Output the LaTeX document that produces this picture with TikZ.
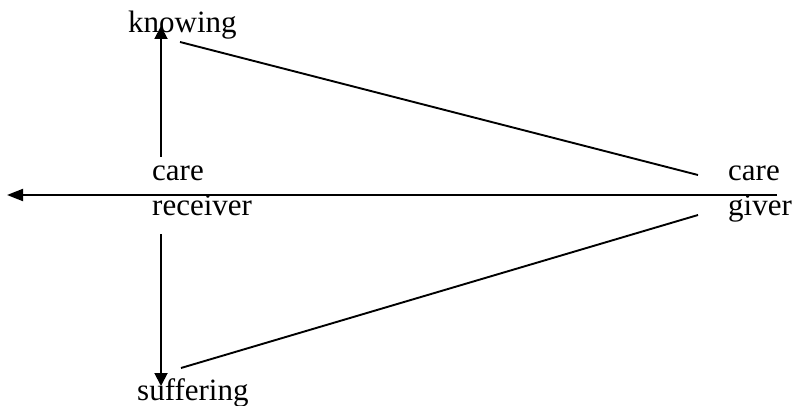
\documentclass[tikz,border=0pt]{standalone}
\usepackage{fontspec}
\setmainfont{Liberation Serif}
\usetikzlibrary{arrows.meta}
\begin{document}
\begin{tikzpicture}[x=1pt,y=-1pt,
  lbl/.style={inner sep=0pt,anchor=base west,font=\fontsize{31}{36}\selectfont},
  link/.style={line width=1.9pt},
  arr/.style={link,-{Triangle[length=13pt,width=13pt]}},
  harr/.style={link,-{Triangle[length=16pt,width=12pt]}}]
  \useasboundingbox (0,0) rectangle (794,406);
  % labels
  \node[lbl] (knowing) at (128,33) {knowing};
  \node[lbl] (suffering) at (137,400) {suffering};
  \node[lbl] (rcare) at (152,180) {care};
  \node[lbl] (receiver) at (152,215) {receiver};
  \node[lbl] (gcare) at (728,180) {care};
  \node[lbl] (giver) at (728,215) {giver};
  % connector end points
  \coordinate (upfrom) at (161,157);
  \coordinate (upto) at (161,26);
  \coordinate (downfrom) at (161,234);
  \coordinate (downto) at (161,386);
  \coordinate (axisright) at (777,195);
  \coordinate (axisleft) at (7,195);
  \coordinate (kend) at (180,42);
  \coordinate (gtop) at (698,175);
  \coordinate (gbot) at (698,215);
  \coordinate (send) at (181,368);
  % connectors
  \draw[harr] (axisright) -- (axisleft);
  \draw[arr] (upfrom) -- (upto);
  \draw[arr] (downfrom) -- (downto);
  \draw[link] (kend) -- (gtop);
  \draw[link] (gbot) -- (send);
\end{tikzpicture}
\end{document}
